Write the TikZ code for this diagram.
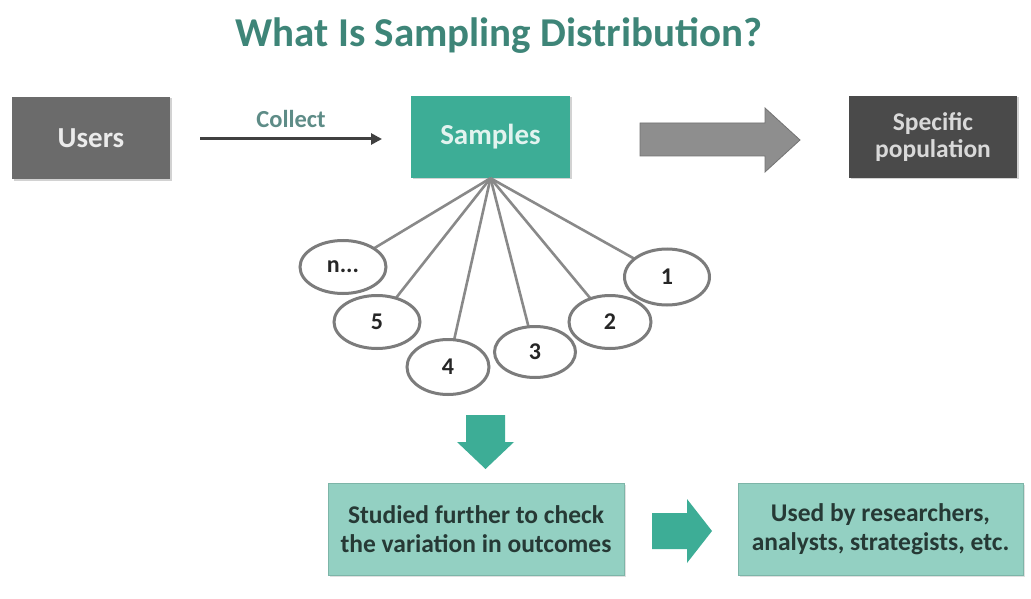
\documentclass[tikz,border=0pt]{standalone}
\usepackage{fontspec}
\setmainfont{Carlito}
\usetikzlibrary{shapes.geometric,arrows.meta,shadows}
\definecolor{titlecol}{HTML}{3E8578}
\definecolor{usersgray}{HTML}{6B6B6B}
\definecolor{teal}{HTML}{3DAD96}
\definecolor{darkgray}{HTML}{4A4A4A}
\definecolor{arrowgray}{HTML}{8E8E8E}
\definecolor{ellgray}{HTML}{7C7C7C}
\definecolor{lightteal}{HTML}{93D0C2}
\definecolor{ltborder}{HTML}{7DB5A8}
\definecolor{collectcol}{HTML}{5E8C87}
\definecolor{darktext}{HTML}{263935}
\tikzset{
  topbox/.style={rectangle, minimum height=82pt, inner sep=0pt, font=\bfseries\fontsize{29}{32}\selectfont, align=center,
    drop shadow={shadow xshift=1.5pt, shadow yshift=-1.5pt, fill=black!35, opacity=0.5}},
  sampleell/.style={ellipse, draw=ellgray, line width=3pt, fill=white, minimum width=86pt, minimum height=53pt, inner sep=0pt,
    font=\bfseries\fontsize{24}{26}\selectfont, text=black!85},
  spoke/.style={draw=ellgray!90, line width=2.6pt},
  bottombox/.style={rectangle, fill=lightteal, draw=ltborder, line width=1pt, minimum height=92pt, inner sep=0pt, align=center,
    text=darktext, font=\bfseries\fontsize{25.5}{29}\selectfont,
    drop shadow={shadow xshift=1.5pt, shadow yshift=-1.5pt, fill=black!30, opacity=0.4}},
  tealarrow/.style={fill=teal, draw=none},
}
\begin{document}
\begin{tikzpicture}[x=1pt,y=-1pt]
\useasboundingbox[fill=white] (0,0) rectangle (1031,599);
% title
\node[font=\bfseries\fontsize{41}{44}\selectfont, text=titlecol] (title) at (499,36) {What Is Sampling Distribution?};
% top row
\node[topbox, fill=usersgray, text=white!92!black, minimum width=158pt] (users) at (91,138) {Users};
\node[topbox, fill=teal, text=white!85!teal, minimum width=159pt] (samples) at (490.5,137) {Samples};
\node[topbox, fill=darkgray, text=white!85!black, minimum width=168pt, font=\bfseries\fontsize{25.5}{27}\selectfont] (spec) at (933,137) {Specific\\population};
\coordinate (c1) at (200,139);
\coordinate (c2) at (382,139);
\draw[line width=3pt, draw=black!75, -{Triangle[length=11pt,width=11pt]}] (c1) -- (c2) node[midway, above=6pt, font=\bfseries\fontsize{24.5}{26}\selectfont, text=collectcol] (collect) {Collect};
% big gray arrow
\draw[fill=arrowgray, draw=black!55, line width=0.8pt] (640,123) -- (765,123) -- (765,108) -- (800,140) -- (765,172) -- (765,156) -- (640,156) -- cycle;
% spokes
\coordinate (en) at (343,267);
\coordinate (e5) at (377,322);
\coordinate (e4) at (448,367);
\coordinate (e3) at (535,352);
\coordinate (e2) at (610,322);
\coordinate (e1) at (667,277);
\foreach \e in {en,e5,e4,e3,e2,e1} {
  \draw[spoke] (samples.south) -- (\e);
}
% ellipses over spokes
\node[sampleell] (ellN) at (en) {n...};
\node[sampleell] (ell5) at (e5) {5};
\node[sampleell, minimum width=82pt, minimum height=55pt] (ell4) at (e4) {4};
\node[sampleell, minimum width=81pt, minimum height=51pt] (ell3) at (e3) {3};
\node[sampleell, minimum width=82pt] (ell2) at (e2) {2};
\node[sampleell, minimum width=85pt, minimum height=56pt] (ell1) at (e1) {1};
% down arrow
\fill[tealarrow] (466,415) -- (505,415) -- (505,442) -- (514,442) -- (485.5,469) -- (457,442) -- (466,442) -- cycle;
% bottom boxes
\node[bottombox, minimum width=296pt] (study) at (476,529.5) {Studied further to check\\the variation in outcomes};
\node[bottombox, minimum width=285pt] (used) at (880.5,529.5) {Used by researchers,\\analysts, strategists, etc.};
% small right arrow
\fill[tealarrow] (652,513) -- (687,513) -- (687,499) -- (712,531) -- (687,563) -- (687,549) -- (652,549) -- cycle;
\end{tikzpicture}
\end{document}
